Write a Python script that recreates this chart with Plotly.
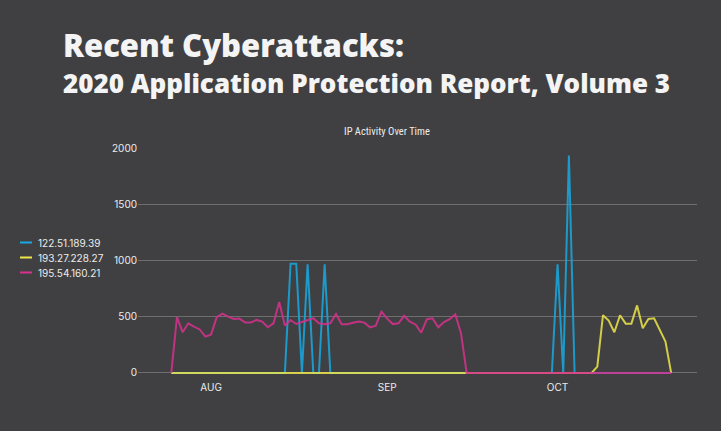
import pandas as pd
import plotly.graph_objects as go

start_date = "2020-07-25"

series_names = ["122.51.189.39", "193.27.228.27", "195.54.160.21"]
series_colors = ["#17a9e2", "#ede64a", "#d8318e"]

ip_122 = [
    0, 0, 0, 0, 0, 0, 0, 0, 0, 0,
    0, 0, 0, 0, 0, 0, 0, 0, 0, 0,
    0, 970, 970, 0, 965, 0, 0, 965, 0, 0,
    0, 0, 0, 0, 0, 0, 0, 0, 0, 0,
    0, 0, 0, 0, 0, 0, 0, 0, 0, 0,
    0, 0, 0, 0, 0, 0, 0, 0, 0, 0,
    0, 0, 0, 0, 0, 0, 0, 0, 966, 0,
    1934, 0, 0, 0, 0, 0, 0, 0, 0, 0,
    0, 0, 0, 0, 0, 0, 0, 0, 0,
]

ip_193 = [
    0, 0, 0, 0, 0, 0, 0, 0, 0, 0,
    0, 0, 0, 0, 0, 0, 0, 0, 0, 0,
    0, 0, 0, 0, 0, 0, 0, 0, 0, 0,
    0, 0, 0, 0, 0, 0, 0, 0, 0, 0,
    0, 0, 0, 0, 0, 0, 0, 0, 0, 0,
    0, 0, 0, 0, 0, 0, 0, 0, 0, 0,
    0, 0, 0, 0, 0, 0, 0, 0, 0, 0,
    0, 0, 0, 0, 0, 56, 513, 465, 361, 513,
    438, 438, 600, 397, 480, 486, 382, 279, 0,
]

ip_195 = [
    0, 495, 361, 441, 412, 386, 323, 340, 495, 527,
    500, 480, 483, 447, 447, 471, 456, 406, 441, 630,
    421, 470, 435, 452, 465, 486, 441, 432, 441, 524,
    432, 432, 445, 456, 447, 405, 420, 545, 482, 434,
    441, 507, 456, 431, 358, 477, 486, 405, 452, 477,
    521, 353, 0, 0, 0, 0, 0, 0, 0, 0,
    0, 0, 0, 0, 0, 0, 0, 0, 0, 0,
    0, 0, 0, 0, 0, 0, 0, 0, 0, 0,
    0, 0, 0, 0, 0, 0, 0, 0, 0,
]

tick_dates = ["2020-08-01", "2020-09-01", "2020-10-01"]
tick_labels = ["AUG", "SEP", "OCT"]
y_ticks = [0, 500, 1000, 1500, 2000]

dates = pd.date_range(start_date, periods=len(ip_195), freq="D")

bg = "#404042"
txt = "#ececec"
font_main = "Inter, Roboto, sans-serif"

W, H = 721, 431
L, R, T, B = 138, 24, 148, 57
PW, PH = W - L - R, H - T - B


def px_x(px):
    return (px - L) / PW


def px_y(py):
    return (H - B - py) / PH


fig = go.Figure()
for name, color, vals in zip(series_names, series_colors, [ip_122, ip_193, ip_195]):
    fig.add_trace(go.Scatter(
        x=dates, y=vals, name=name, mode="lines",
        line=dict(color=color, width=2),
        opacity=0.85, showlegend=False,
    ))

# legend drawn as keys next to the series names
shapes = []
annotations = []
legend_y = [242.5, 257.5, 272.5]
for name, color, ly in zip(series_names, series_colors, legend_y):
    shapes.append(dict(type="line", xref="paper", yref="paper",
                       x0=px_x(20), x1=px_x(32), y0=px_y(ly), y1=px_y(ly),
                       line=dict(color=color, width=2)))
    annotations.append(dict(text=name, xref="paper", yref="paper",
                            x=px_x(36), y=px_y(ly), xanchor="left", yanchor="middle",
                            showarrow=False,
                            font=dict(family=font_main, size=10, color=txt)))

annotations += [
    dict(text="Recent Cyberattacks:", xref="paper", yref="paper",
         x=px_x(61), y=px_y(45), xanchor="left", yanchor="middle", showarrow=False,
         font=dict(family="Open Sans, sans-serif", size=31, color="#f4f4f4", weight=800)),
    dict(text="2020 Application Protection Report, Volume 3", xref="paper", yref="paper",
         x=px_x(61), y=px_y(83), xanchor="left", yanchor="middle", showarrow=False,
         font=dict(family="Open Sans, sans-serif", size=26, color="#f4f4f4", weight=800)),
    dict(text="IP Activity Over Time", xref="paper", yref="paper",
         x=px_x(387), y=px_y(131), xanchor="center", yanchor="middle",
         showarrow=False,
         font=dict(family="Liberation Sans Narrow, Roboto Condensed, Liberation Sans, sans-serif",
                   size=10.5, color=txt)),
]

fig.update_layout(
    width=W, height=H,
    paper_bgcolor=bg, plot_bgcolor=bg,
    margin=dict(l=L, r=R, t=T, b=B),
    showlegend=False,
    xaxis=dict(
        type="date",
        range=["2020-07-19 03:24", "2020-10-25 13:12"],
        tickvals=tick_dates, ticktext=tick_labels,
        showgrid=False, zeroline=False, showline=False, ticks="",
        ticklabelstandoff=6,
        tickfont=dict(family=font_main, size=10, color=txt),
    ),
    yaxis=dict(
        range=[-10, 2000],
        tickvals=y_ticks,
        showgrid=True, gridcolor="#6e6e6e", gridwidth=1,
        zeroline=False, showline=False, ticks="",
        ticklabelstandoff=0,
        tickfont=dict(family=font_main, size=10, color=txt),
    ),
    shapes=shapes,
    annotations=annotations,
)

fig.write_html("out.html")
